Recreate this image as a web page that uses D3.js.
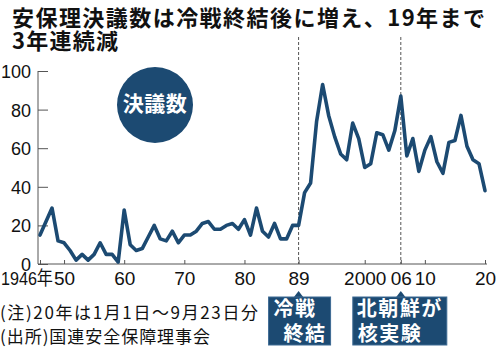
<!DOCTYPE html>
<html>
<head>
<meta charset="utf-8">
<script src="https://cdn.jsdelivr.net/npm/d3@7"></script>
<style>
  html, body { margin: 0; padding: 0; background: #fff; }
  svg { display: block; }
  .jp { font-family: "Noto Sans CJK JP", "Noto Sans", sans-serif; }
  .num { font-family: "Liberation Sans", Arial, sans-serif; }
</style>
</head>
<body>
<svg id="chart" width="500" height="347"></svg>
<script>
// Security Council resolutions adopted per year (2020: Jan 1 – Sep 23)
const years = d3.range(1946, 2021);
const resolutions = [
  15, 22, 29, 12, 11, 7, 2, 5, 2, 5,      // 1946-1955
  11, 5, 5, 1, 28, 10, 7, 8, 14, 20,      // 1956-1965
  13, 12, 17, 11, 15, 15, 17, 21, 22, 18, // 1966-1975
  18, 20, 21, 18, 23, 15, 29, 17, 14, 21, // 1976-1985
  13, 13, 20, 20, 37, 42, 74, 93, 77, 66, // 1986-1995
  57, 54, 73, 65, 50, 52, 68, 67, 59, 69, // 1996-2005
  87, 56, 65, 48, 59, 66, 53, 47, 63, 64, // 2006-2015
  77, 61, 54, 52, 38                      // 2016-2020
];
const xTickYears = [1946, 1950, 1960, 1970, 1980, 1989, 2000, 2006, 2010, 2020];
const xTickLabels = ["1946年", "50", "60", "70", "80", "89", "2000", "06", "10", "20"];
const yTicks = [0, 20, 40, 60, 80, 100];
const markerYears = [1989, 2006];
const markerLabels = [["冷戦", "終結"], ["北朝鮮が", "核実験"]];
const titleLines = ["安保理決議数は冷戦終結後に増え、19年まで", "3年連続減"];
const badgeLabel = "決議数";
const notes = ["(注)20年は1月1日～9月23日分", "(出所)国連安全保障理事会"];

const navy = "#1c4a72";
const axisGray = "#555";

const svg = d3.select("#chart");

const x = d3.scaleLinear().domain([1946, 2020]).range([40, 485]);
const y = d3.scaleLinear().domain([0, 100]).range([264, 71]);

// Title
const title = svg.append("g").attr("class", "jp").attr("fill", "#111")
  .attr("font-size", 22).attr("font-weight", 700);
title.append("text").attr("x", 12).attr("y", 26)
  .attr("textLength", 473).attr("lengthAdjust", "spacing").text(titleLines[0]);
title.append("text").attr("x", 12).attr("y", 49)
  .attr("textLength", 106).attr("lengthAdjust", "spacing").text(titleLines[1]);

// Event reference lines
svg.append("g").selectAll("line").data(markerYears).join("line")
  .attr("x1", d => x(d)).attr("x2", d => x(d))
  .attr("y1", 37).attr("y2", y(0))
  .attr("stroke", axisGray).attr("stroke-width", 1)
  .attr("stroke-dasharray", "3,2");

// Y axis
const yAxis = svg.append("g").attr("transform", "translate(38,0)")
  .call(d3.axisRight(y).tickValues(yTicks).tickSize(10).tickFormat(d3.format("d")));
yAxis.select(".domain").attr("stroke", axisGray).attr("d", `M0,${y(100)}V${y(0)}`);
yAxis.selectAll(".tick line").attr("stroke", axisGray);
yAxis.selectAll(".tick text")
  .attr("class", "num").attr("x", -7).attr("text-anchor", "end")
  .attr("font-size", 18).attr("fill", "#111").attr("dy", "0.36em");

// X axis
const xAxis = svg.append("g").attr("transform", `translate(0,${y(0)})`)
  .call(d3.axisTop(x).tickValues(xTickYears).tickSize(4)
    .tickFormat((d, i) => xTickLabels[i]));
xAxis.select(".domain").attr("stroke", axisGray).attr("d", `M38,0H487`);
xAxis.selectAll(".tick line").attr("stroke", axisGray);
xAxis.selectAll(".tick text")
  .attr("font-family", "'Liberation Sans', 'Noto Sans CJK JP', sans-serif")
  .attr("font-size", 19).attr("fill", "#111")
  .attr("y", 21).attr("dy", 0);
// The first label carries the era suffix and sits left of its tick
xAxis.selectAll(".tick text").filter(d => d === 1946)
  .attr("text-anchor", "start").attr("x", -x(1946) + 0.5)
  .attr("textLength", 52).attr("lengthAdjust", "spacingAndGlyphs");

// Resolution count line
const line = d3.line().x((d, i) => x(years[i])).y(d => y(d));
svg.append("path").datum(resolutions)
  .attr("d", line).attr("fill", "none")
  .attr("stroke", navy).attr("stroke-width", 3.6)
  .attr("stroke-linejoin", "round").attr("stroke-linecap", "round");

// Series badge
const badge = svg.append("g").attr("transform", "translate(155,105)");
badge.append("circle").attr("r", 38).attr("fill", navy);
badge.append("text").attr("class", "jp").attr("text-anchor", "middle")
  .attr("y", 5.5).attr("font-size", 21).attr("font-weight", 700).attr("fill", "#fff")
  .attr("letter-spacing", 0.5)
  .text(badgeLabel);

// Event callouts under the axis
const boxW = [62, 94];
const boxOffset = [-30, -48];
const lineIndent = [[5, 15], [4, 5]];
markerYears.forEach((yr, i) => {
  const cx = x(yr);
  const left = cx + boxOffset[i];
  const g = svg.append("g");
  g.append("path")
    .attr("d", `M${cx - 5},297.5L${cx},291L${cx + 5},297.5Z`)
    .attr("fill", navy);
  g.append("rect").attr("x", left).attr("y", 297).attr("width", boxW[i]).attr("height", 48)
    .attr("fill", navy).attr("stroke", "#3d6a93").attr("stroke-width", 1);
  markerLabels[i].forEach((t, j) => {
    g.append("text").attr("class", "jp")
      .attr("x", left + lineIndent[i][j]).attr("y", 316 + j * 25)
      .attr("font-size", 20).attr("font-weight", 700).attr("fill", "#fff")
      .attr("letter-spacing", 1.5)
      .text(t);
  });
});

// Footnotes
const foot = svg.append("g").attr("class", "jp").attr("fill", "#111").attr("font-size", 17);
foot.append("text").attr("x", 0).attr("y", 319)
  .attr("textLength", 258).attr("lengthAdjust", "spacing").text(notes[0]);
foot.append("text").attr("x", 0).attr("y", 343)
  .attr("textLength", 210).attr("lengthAdjust", "spacing").text(notes[1]);
</script>
</body>
</html>
